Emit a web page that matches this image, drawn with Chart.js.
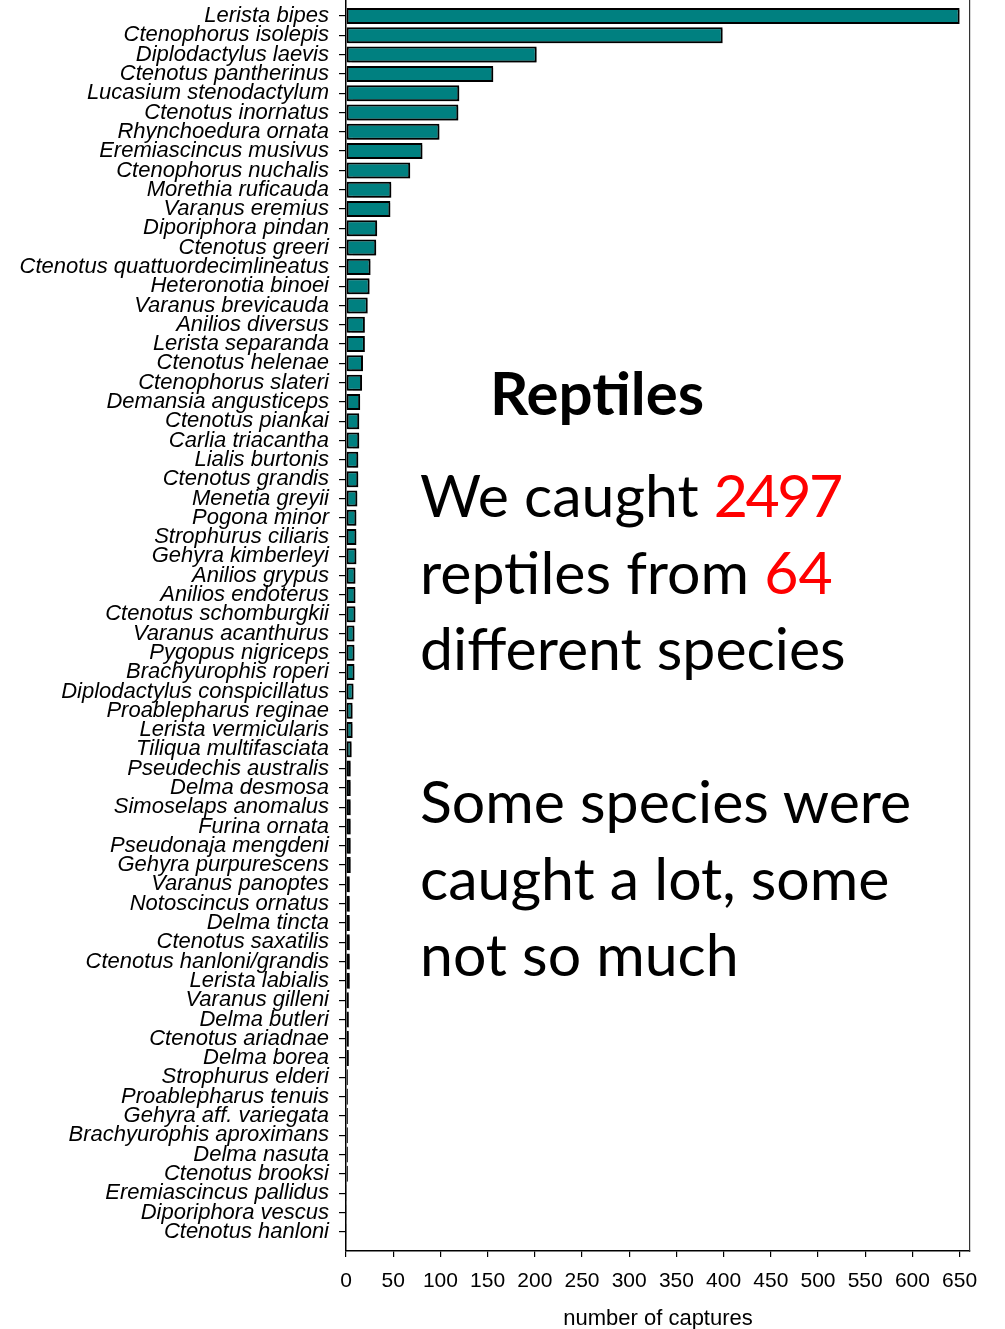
<!DOCTYPE html>
<html>
<head>
<meta charset="utf-8">
<script src="https://cdn.jsdelivr.net/npm/chart.js@4.4.1/dist/chart.umd.min.js"></script>
<style>
  html, body { margin: 0; padding: 0; background: #ffffff; }
  #wrap { position: relative; width: 1005px; height: 1329px; }
  #c { position: absolute; left: 0; top: 0; }
  .note { position: absolute; font-family: Lato, "Open Sans", sans-serif; color: #000; white-space: nowrap; }
  #title { left: 597px; transform: translateX(-50%); top: 354px; font-size: 60px; font-weight: 700; line-height: 76.5px; }
  #body { left: 420px; top: 457px; font-size: 59px; line-height: 76.5px; }
  .red { color: #ff0000; }
  .tight { letter-spacing: -2.5px; }
</style>
</head>
<body>
<div id="wrap">
  <canvas id="c" width="1005" height="1329"></canvas>
  <div class="note" id="title">Reptiles</div>
  <div class="note" id="body">We caught <span class="red tight">2497</span><br>reptiles from <span class="red">64</span><br>different species<br><br>Some species were<br>caught a lot, some<br>not so much</div>
</div>
<script>
const species = [
  "Lerista bipes", "Ctenophorus isolepis", "Diplodactylus laevis", "Ctenotus pantherinus",
  "Lucasium stenodactylum", "Ctenotus inornatus", "Rhynchoedura ornata", "Eremiascincus musivus",
  "Ctenophorus nuchalis", "Morethia ruficauda", "Varanus eremius", "Diporiphora pindan",
  "Ctenotus greeri", "Ctenotus quattuordecimlineatus", "Heteronotia binoei", "Varanus brevicauda",
  "Anilios diversus", "Lerista separanda", "Ctenotus helenae", "Ctenophorus slateri",
  "Demansia angusticeps", "Ctenotus piankai", "Carlia triacantha", "Lialis burtonis",
  "Ctenotus grandis", "Menetia greyii", "Pogona minor", "Strophurus ciliaris",
  "Gehyra kimberleyi", "Anilios grypus", "Anilios endoterus", "Ctenotus schomburgkii",
  "Varanus acanthurus", "Pygopus nigriceps", "Brachyurophis roperi", "Diplodactylus conspicillatus",
  "Proablepharus reginae", "Lerista vermicularis", "Tiliqua multifasciata", "Pseudechis australis",
  "Delma desmosa", "Simoselaps anomalus", "Furina ornata", "Pseudonaja mengdeni",
  "Gehyra purpurescens", "Varanus panoptes", "Notoscincus ornatus", "Delma tincta",
  "Ctenotus saxatilis", "Ctenotus hanloni/grandis", "Lerista labialis", "Varanus gilleni",
  "Delma butleri", "Ctenotus ariadnae", "Delma borea", "Strophurus elderi",
  "Proablepharus tenuis", "Gehyra aff. variegata", "Brachyurophis aproximans", "Delma nasuta",
  "Ctenotus brooksi", "Eremiascincus pallidus", "Diporiphora vescus", "Ctenotus hanloni"
];
const captures = [
  650, 399, 202, 156,
  120, 119, 99, 81,
  68, 48, 47, 33,
  32, 26, 25, 23,
  20, 20, 18, 17,
  15, 14, 14, 13,
  13, 12, 11, 11,
  11, 10, 10, 10,
  9, 9, 9, 8,
  7, 7, 6, 5,
  5, 5, 5, 5,
  5, 4, 4, 4,
  4, 4, 4, 3,
  3, 3, 3, 2,
  2, 2, 2, 2,
  2, 1, 1, 1
];
const xTicks = [0, 50, 100, 150, 200, 250, 300, 350, 400, 450, 500, 550, 600, 650];
const xAxisTitle = "number of captures";

const points = captures.map((v, i) => ({ x: v, y: i }));

function zeroPad(s) { s.paddingTop = 0; s.paddingBottom = 0; s.paddingLeft = 0; s.paddingRight = 0; }

const shadowPlugin = {
  id: 'barShadow',
  beforeDatasetsDraw(chart) {
    const ctx = chart.ctx;
    ctx.save();
    ctx.shadowColor = 'rgba(0,0,0,0.3)';
    ctx.shadowOffsetX = 1.5;
    ctx.shadowOffsetY = 2;
    ctx.shadowBlur = 1;
  },
  afterDatasetsDraw(chart) {
    chart.ctx.restore();
  }
};

new Chart(document.getElementById('c'), {
  type: 'bar',
  data: {
    datasets: [{
      data: points,
      backgroundColor: '#008080',
      borderColor: '#000000',
      borderWidth: 2,
      borderSkipped: false,
      categoryPercentage: 1.0,
      barPercentage: 0.83
    }]
  },
  options: {
    indexAxis: 'y',
    responsive: false,
    animation: false,
    events: [],
    layout: { padding: { top: 0, left: 0, right: 35, bottom: 0 } },
    plugins: { legend: { display: false }, tooltip: { enabled: false } },
    scales: {
      x: {
        type: 'linear',
        position: 'bottom',
        min: 0,
        max: 661,
        afterFit(s) { s.height = 78; zeroPad(s); },
        afterBuildTicks(s) { s.ticks = xTicks.map(v => ({ value: v })); },
        grid: { display: true, drawOnChartArea: false, drawTicks: true, tickLength: 6, color: '#000', lineWidth: 1.2 },
        border: { display: true, color: '#000', width: 1.5 },
        ticks: {
          color: '#000',
          padding: 12,
          maxRotation: 0,
          autoSkip: false,
          font: { family: '"Liberation Sans", Arial, sans-serif', size: 21 }
        },
        title: {
          display: true,
          text: xAxisTitle,
          color: '#000',
          padding: { top: 0, bottom: 0 },
          font: { family: '"Liberation Sans", Arial, sans-serif', size: 22, lineHeight: 0.9 }
        }
      },
      y: {
        type: 'linear',
        position: 'left',
        reverse: true,
        offset: false,
        min: -0.83,
        max: 64,
        afterFit(s) { s.width = 346; zeroPad(s); },
        afterBuildTicks(s) { s.ticks = species.map((_, i) => ({ value: i })); },
        grid: { display: true, offset: false, drawOnChartArea: false, drawTicks: true, tickLength: 7, color: '#000', lineWidth: 1.2 },
        border: { display: true, color: '#000', width: 1.5 },
        ticks: {
          color: '#000',
          padding: 10,
          autoSkip: false,
          callback: (v) => species[v],
          font: { family: '"Liberation Sans", Arial, sans-serif', size: 22, style: 'italic', lineHeight: 1.0 }
        }
      },
      y2: {
        type: 'linear',
        position: 'right',
        min: 0,
        max: 1,
        afterFit(s) { s.width = 0; zeroPad(s); },
        grid: { display: false },
        ticks: { display: false },
        border: { display: true, color: '#333', width: 1.2 }
      }
    }
  },
  plugins: [shadowPlugin]
});
</script>
</body>
</html>
